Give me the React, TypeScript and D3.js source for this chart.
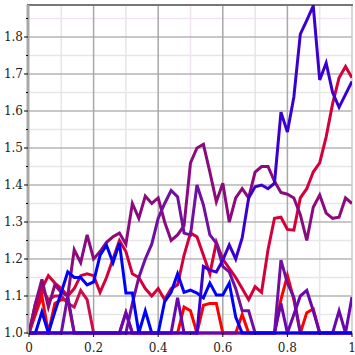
import React from "react";
import * as d3 from "d3";

type Pt = [number, number];

const xTicks = [0, 0.2, 0.4, 0.6, 0.8, 1];
const xTickLabels = ["0", "0.2", "0.4", "0.6", "0.8", "1"];
const yTicks = [1.0, 1.1, 1.2, 1.3, 1.4, 1.5, 1.6, 1.7, 1.8];
const yTickLabels = ["1.0", "1.1", "1.2", "1.3", "1.4", "1.5", "1.6", "1.7", "1.8"];

const redWalk: Pt[] = [[0,1],[0.02,1.05],[0.04,1.10],[0.06,1.0],[0.08,1.08],[0.10,1.09],[0.12,1.09],[0.14,1.0],[0.46,1.0],[0.48,1.07],[0.50,1.06],[0.52,1.0],[0.54,1.075],[0.56,1.08],[0.58,1.08],[0.60,1.0],[0.64,1.0],[0.66,1.05],[0.68,1.0],[0.76,1.0],[0.78,1.09],[0.80,1.155],[0.82,1.09],[0.84,1.0],[0.86,1.055],[0.88,1.065],[0.90,1.0],[1,1.0]];

const crimsonBWalk: Pt[] = [[0,1],[0.02,1.08],[0.04,1.12],[0.06,1.09],[0.08,1.10],[0.10,1.10],[0.12,1.08],[0.14,1.07],[0.16,1.115],[0.18,1.09],[0.20,1.0],[0.28,1.0],[0.30,1.055],[0.32,1.0],[1,1.0]];

const crimsonAWalk: Pt[] = [[0,1.0],[0.02,1.06],[0.04,1.12],[0.06,1.155],[0.08,1.135],[0.10,1.12],[0.12,1.10],[0.14,1.12],[0.16,1.155],[0.18,1.16],[0.20,1.155],[0.22,1.11],[0.24,1.15],[0.26,1.20],[0.28,1.25],[0.30,1.22],[0.32,1.16],[0.34,1.15],[0.36,1.12],[0.38,1.10],[0.40,1.12],[0.42,1.09],[0.44,1.12],[0.46,1.13],[0.48,1.21],[0.50,1.27],[0.52,1.26],[0.54,1.21],[0.56,1.16],[0.58,1.245],[0.60,1.20],[0.62,1.175],[0.64,1.15],[0.66,1.12],[0.68,1.09],[0.70,1.125],[0.72,1.11],[0.74,1.225],[0.76,1.31],[0.78,1.313],[0.80,1.28],[0.82,1.278],[0.84,1.365],[0.86,1.39],[0.88,1.435],[0.90,1.46],[0.92,1.53],[0.94,1.62],[0.96,1.69],[0.98,1.72],[1.0,1.69]];

const purpleAWalk: Pt[] = [[0,1.0],[0.02,1.08],[0.04,1.145],[0.06,1.07],[0.08,1.13],[0.10,1.11],[0.12,1.10],[0.14,1.225],[0.16,1.19],[0.18,1.265],[0.20,1.20],[0.22,1.22],[0.24,1.245],[0.26,1.26],[0.28,1.27],[0.30,1.24],[0.32,1.35],[0.34,1.31],[0.36,1.37],[0.38,1.35],[0.40,1.365],[0.42,1.30],[0.44,1.25],[0.46,1.265],[0.48,1.29],[0.50,1.46],[0.52,1.50],[0.54,1.51],[0.56,1.435],[0.58,1.355],[0.60,1.405],[0.62,1.30],[0.64,1.365],[0.66,1.39],[0.68,1.365],[0.70,1.435],[0.72,1.45],[0.74,1.45],[0.76,1.41],[0.78,1.38],[0.80,1.375],[0.82,1.365],[0.84,1.32],[0.86,1.25],[0.88,1.34],[0.90,1.373],[0.92,1.324],[0.94,1.31],[0.96,1.313],[0.98,1.365],[1.0,1.35]];

const violetAWalk: Pt[] = [[0,1.0],[0.10,1.0],[0.12,1.10],[0.14,1.0],[0.30,1.0],[0.32,1.08],[0.34,1.15],[0.36,1.20],[0.38,1.24],[0.40,1.31],[0.42,1.35],[0.44,1.385],[0.46,1.368],[0.48,1.27],[0.50,1.265],[0.52,1.40],[0.54,1.346],[0.56,1.265],[0.58,1.243],[0.60,1.18],[0.62,1.165],[0.64,1.12],[0.66,1.06],[0.68,1.06],[0.70,1.0],[0.76,1.0],[0.78,1.197],[0.80,1.135],[0.82,1.097],[0.84,1.0],[1,1.0]];

const violetBWalk: Pt[] = [[0,1.0],[0.28,1.0],[0.30,1.055],[0.32,1.0],[0.44,1.0],[0.46,1.095],[0.48,1.0],[0.76,1.0],[0.78,1.08],[0.80,1.0],[0.82,1.05],[0.84,1.10],[0.86,1.115],[0.88,1.06],[0.90,1.0],[0.94,1.0],[0.96,1.06],[0.98,1.0],[1.0,1.097]];

const blueWalk: Pt[] = [[0,1.0],[0.02,1.0],[0.04,1.057],[0.06,1.0],[0.08,1.057],[0.10,1.11],[0.12,1.165],[0.14,1.15],[0.16,1.15],[0.18,1.13],[0.20,1.138],[0.22,1.21],[0.24,1.237],[0.26,1.19],[0.28,1.243],[0.30,1.108],[0.32,1.108],[0.34,1.0],[0.36,1.06],[0.38,1.0],[0.40,1.0],[0.42,1.085],[0.44,1.11],[0.46,1.16],[0.48,1.11],[0.50,1.116],[0.52,1.108],[0.54,1.095],[0.56,1.135],[0.58,1.103],[0.60,1.103],[0.62,1.135],[0.64,1.043],[0.66,1.0],[1,1.0]];

const indigoWalk: Pt[] = [[0,1.0],[0.52,1.0],[0.54,1.18],[0.56,1.17],[0.58,1.165],[0.60,1.197],[0.62,1.238],[0.64,1.20],[0.66,1.257],[0.68,1.365],[0.70,1.395],[0.72,1.40],[0.74,1.39],[0.76,1.405],[0.78,1.597],[0.80,1.543],[0.82,1.638],[0.84,1.808],[0.86,1.845],[0.88,1.884],[0.90,1.684],[0.92,1.73],[0.94,1.65],[0.96,1.61],[0.98,1.645],[1.0,1.68]];

const seriesData: Pt[][] = [redWalk, crimsonBWalk, crimsonAWalk, purpleAWalk, violetAWalk, violetBWalk, blueWalk, indigoWalk];
const seriesColors = ["#ff0000", "#c8104f", "#d4003c", "#8b0a7d", "#7010a0", "#6a08b0", "#0000ff", "#3a00d2"];

export default function App() {
  const W = 355, H = 355;
  const x = d3.scaleLinear().domain([0, 1]).range([29, 352]);
  const y = d3.scaleLinear().domain([1.0, 1.8]).range([333, 37]);
  const top = 5;
  const line = d3.line<Pt>().x(d => x(d[0])).y(d => y(d[1]));
  const minorX = d3.range(1, 10, 2).map(i => i / 10);
  const minorY = d3.range(0, 9).map(i => 1.05 + i * 0.1);
  const font = "'DejaVu Serif', 'Liberation Serif', serif";
  return (
    <svg width={W} height={H} style={{ position: "absolute", left: 0, top: 0 }}>
      <rect x={0} y={0} width={W} height={H} fill="#fff" />
      <defs>
        <clipPath id="plot"><rect x={29} y={top} width={323} height={333 - top + 2} /></clipPath>
      </defs>
      {minorY.map(v => (
        <line key={"my" + v} x1={29} x2={352} y1={y(v)} y2={y(v)} stroke={Math.abs(v - 1.85) < 1e-6 ? "#f1e4f1" : "#e6e6e6"} strokeWidth={1.5} />
      ))}
      {minorX.map(v => (
        <line key={"mx" + v} x1={x(v)} x2={x(v)} y1={top} y2={333} stroke={Math.abs(v - 0.5) < 1e-6 ? "#f1e4f1" : "#e6e6e6"} strokeWidth={1.5} />
      ))}
      {yTicks.slice(1).map(v => (
        <line key={"gy" + v} x1={29} x2={352} y1={y(v)} y2={y(v)} stroke="#b4b4b4" strokeWidth={1.5} />
      ))}
      {xTicks.slice(1, 5).map(v => (
        <line key={"gx" + v} x1={x(v)} x2={x(v)} y1={top} y2={333} stroke="#a8a8a8" strokeWidth={1.5} />
      ))}
      <line x1={352} x2={352} y1={top} y2={333} stroke="#c8c8c8" strokeWidth={1.5} />
      <line x1={27} x2={353} y1={top} y2={top} stroke="#777" strokeWidth={2} />
      <line x1={28} x2={28} y1={top} y2={334} stroke="#a8a8a8" strokeWidth={3} />
      <g clipPath="url(#plot)">
        {seriesData.map((s, i) => (
          <path key={i} d={line(s) ?? ""} fill="none" stroke={seriesColors[i]} strokeWidth={3} strokeLinejoin="miter" />
        ))}
      </g>
      {yTicks.map((v, i) => (
        <g key={"yl" + v}>
          <line x1={24} x2={28} y1={y(v)} y2={y(v)} stroke="#000" strokeWidth={1} />
          <text x={23} y={y(v) + 4} textAnchor="end" fontFamily={font} fontSize={12} fill="#222">{yTickLabels[i]}</text>
        </g>
      ))}
      {minorY.map(v => (
        <line key={"yt" + v} x1={26} x2={28} y1={y(v)} y2={y(v)} stroke="#000" strokeWidth={1} />
      ))}
      {xTicks.map((v, i) => (
        <g key={"xl" + v}>
          <line x1={x(v)} x2={x(v)} y1={333} y2={337} stroke="#000" strokeWidth={1} />
          <text x={x(v)} y={352} textAnchor="middle" fontFamily={font} fontSize={12} fill="#222">{xTickLabels[i]}</text>
        </g>
      ))}
      {minorX.map(v => (
        <line key={"xt" + v} x1={x(v)} x2={x(v)} y1={333} y2={335} stroke="#000" strokeWidth={1} />
      ))}
    </svg>
  );
}
